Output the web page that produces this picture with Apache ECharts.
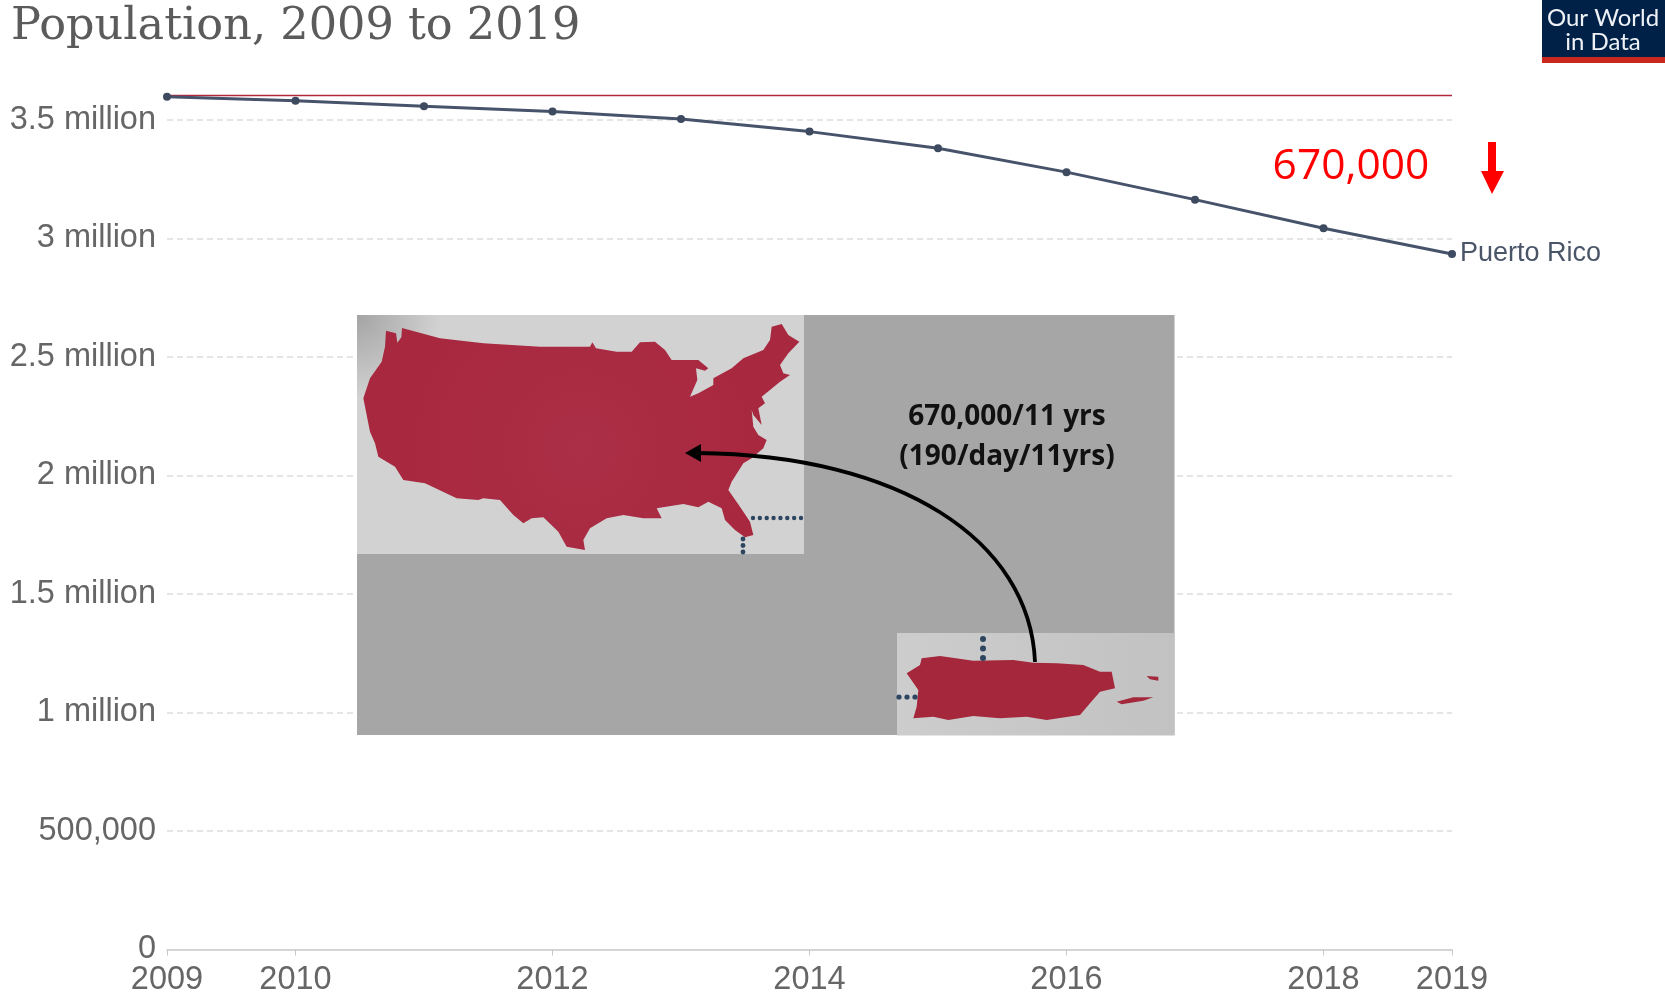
<!DOCTYPE html>
<html><head><meta charset="utf-8">
<style>html,body{margin:0;padding:0;background:#fff}#c{width:1665px;height:997px}</style>
<script src="https://cdn.jsdelivr.net/npm/echarts@6/dist/echarts.min.js"></script>
</head><body><div id="c"></div>
<script>
const years=[2009,2010,2011,2012,2013,2014,2015,2016,2017,2018,2019];
const population=[3598000,3581000,3558000,3536000,3504000,3451000,3381000,3280000,3164000,3043000,2935000];
const referenceYears=[2009,2019];
const referenceLevel=[3603000,3603000];
const xTickYears=[2009,2010,2012,2014,2016,2018,2019];
const yTickValues=[0,500000,1000000,1500000,2000000,2500000,3000000,3500000];
const yTickLabels=['0','500,000','1 million','1.5 million','2 million','2.5 million','3 million','3.5 million'];
const titleText='Population, 2009 to 2019';
const seriesName='Puerto Rico';

const usOutline=[[138,92],[168,100],[172,128],[184,112],[186,84],[300,115],[430,130],[600,140],[750,140],[757,127],[768,145],[830,155],[875,155],[900,127],[945,125],[975,150],[995,180],[1075,180],[1105,205],[1095,212],[1068,205],[1072,240],[1050,290],[1075,280],[1120,255],[1120,235],[1175,205],[1210,175],[1270,150],[1290,120],[1295,80],[1325,72],[1345,105],[1378,125],[1345,160],[1320,195],[1330,220],[1350,225],[1320,245],[1290,270],[1265,290],[1275,310],[1255,325],[1265,375],[1240,345],[1235,330],[1240,380],[1255,405],[1280,420],[1270,445],[1235,475],[1210,490],[1175,545],[1165,570],[1200,620],[1230,665],[1240,705],[1215,712],[1185,690],[1155,660],[1145,625],[1105,605],[1075,622],[1030,612],[950,625],[965,655],[910,655],[850,645],[800,655],[750,685],[730,720],[735,750],[680,740],[655,695],[610,652],[575,655],[550,670],[520,645],[480,600],[430,595],[415,600],[350,595],[255,550],[190,540],[165,500],[115,470],[105,430],[90,395],[70,295],[90,235],[125,185],[135,140]];
const prOutline=[[365,865],[420,858],[520,872],[640,870],[700,878],[770,880],[850,885],[900,905],[935,905],[945,955],[900,965],[870,1000],[840,1035],[740,1050],[680,1040],[600,1045],[520,1038],[445,1050],[400,1040],[340,1045],[350,1010],[355,960],[320,910],[360,885]];
const viequesOutline=[[950,995],[1000,982],[1060,982],[1030,992],[965,1003]];
const culebraOutline=[[1040,918],[1075,920],[1075,932],[1050,928]];
const toPx=(pts,ox,oy)=>pts.map(p=>[ox+p[0]/3,oy+p[1]/3]);

const usPhotoFill={type:'radial',x:0,y:0,r:0.35,colorStops:[{offset:0,color:'#a4a4a4'},{offset:1,color:'#d2d2d2'}]};
const prPhotoFill={type:'linear',x:0,y:0,x2:1,y2:0,colorStops:[{offset:0,color:'#cdcdcd'},{offset:1,color:'#c2c2c2'}]};
const redFill={type:'radial',x:0.5,y:0.55,r:0.75,colorStops:[{offset:0,color:'#ab2f47'},{offset:1,color:'#a8283f'}]};
const poly=(pts,fill)=>({type:'polygon',z:102,shape:{points:pts},style:{fill}});
const dotsH=(x1,x2,y,n,r)=>Array.from({length:n},(_,i)=>({type:'circle',z:103,shape:{cx:x1+(x2-x1)*i/(n-1),cy:y,r},style:{fill:'#2e4560'}}));
const dotsV=(x,y1,y2,n,r)=>Array.from({length:n},(_,i)=>({type:'circle',z:103,shape:{cx:x,cy:y1+(y2-y1)*i/(n-1),r},style:{fill:'#2e4560'}}));

const graphics=[
 {type:'rect',z:100,shape:{x:357,y:315,width:817.5,height:420},style:{fill:'#a6a6a6'}},
 {type:'rect',z:101,shape:{x:357,y:315,width:447,height:239},style:{fill:usPhotoFill}},
 {type:'rect',z:101,shape:{x:897,y:633,width:277.5,height:102.5},style:{fill:prPhotoFill}},
 poly(toPx(usOutline,340,300),redFill),
 poly(toPx(prOutline,800,370),'#a4273c'),
 poly(toPx(viequesOutline,800,370),'#a4273c'),
 poly(toPx(culebraOutline,800,370),'#a4273c'),
 ...dotsH(753,801,518,8,2.2),
 ...dotsV(743,539,552,3,2.4),
 ...dotsV(983,639,658,3,3),
 ...dotsH(899,915,697,3,2.6),
 {type:'bezierCurve',z:104,shape:{x1:1035,y1:662,cpx1:1030,cpy1:540,cpx2:900,cpy2:455,x2:698,y2:453},style:{stroke:'#000',lineWidth:3.8,fill:null}},
 {type:'polygon',z:104,shape:{points:[[685,453],[701,444],[701,462]]},style:{fill:'#000'}},
 {type:'text',z:105,style:{x:1007,y:417,text:'670,000/11 yrs',font:'bold 28px "Open Sans"',fill:'#111',align:'center',verticalAlign:'middle'}},
 {type:'text',z:105,style:{x:1007,y:457,text:'(190/day/11yrs)',font:'bold 28px "Open Sans"',fill:'#111',align:'center',verticalAlign:'middle'}},
 {type:'text',z:105,style:{x:1351,y:167,text:'670,000',font:'42.5px "Open Sans"',fill:'#ff0000',align:'center',verticalAlign:'middle'}},
 {type:'polygon',z:105,shape:{points:[[1488,142],[1496,142],[1496,171],[1504,171],[1492,194],[1481,171],[1488,171]]},style:{fill:'#ff0000'}},
 {type:'rect',z:105,shape:{x:1542,y:0,width:123,height:57},style:{fill:'#002147'}},
 {type:'rect',z:105,shape:{x:1542,y:57,width:123,height:6},style:{fill:'#c9281f'}},
 {type:'text',z:106,style:{x:1603,y:18,text:'Our World',font:'24px Lato',fill:'#eef2f6',align:'center',verticalAlign:'middle'}},
 {type:'text',z:106,style:{x:1603,y:42,text:'in Data',font:'24px Lato',fill:'#eef2f6',align:'center',verticalAlign:'middle'}}
];

const chart=echarts.init(document.getElementById('c'),null,{renderer:'canvas',width:1665,height:997});
chart.setOption({
 animation:false,
 backgroundColor:'#fff',
 title:{text:titleText,left:6,top:0,textStyle:{fontFamily:'"DejaVu Serif"',fontWeight:'normal',fontSize:44.6,color:'#5b5b5b'}},
 grid:{left:167,right:213,top:60.75,bottom:47.5,containLabel:false},
 xAxis:{type:'value',min:2009,max:2019,
  splitLine:{show:false},
  axisLine:{show:true,lineStyle:{color:'#c8c8c8',width:1.5}},
  axisTick:{show:true,length:6,customValues:xTickYears,lineStyle:{color:'#c8c8c8'}},
  axisLabel:{customValues:xTickYears,formatter:v=>String(v),margin:14,fontFamily:'"Liberation Sans"',fontSize:32.5,color:'#666',hideOverlap:false,showMinLabel:true,showMaxLabel:true}},
 yAxis:{type:'value',min:0,max:3750000,
  axisLine:{show:false},
  axisTick:{show:false,customValues:yTickValues},
  splitLine:{show:true,lineStyle:{color:'#dddddd',type:[6,4],width:1.5},showMinLine:false},
  axisLabel:{customValues:yTickValues,margin:11,padding:[0,0,6,0],fontFamily:'"Liberation Sans"',fontSize:32.5,color:'#666',
   formatter:v=>yTickLabels[yTickValues.indexOf(v)]}},
 series:[
  {name:'Reference',type:'line',data:referenceYears.map((y,i)=>[y,referenceLevel[i]]),showSymbol:false,lineStyle:{color:'#b2283f',width:1.5},z:3,silent:true},
  {name:seriesName,type:'line',data:years.map((y,i)=>[y,population[i]]),symbol:'circle',symbolSize:8,showSymbol:true,showAllSymbols:true,
   itemStyle:{color:'#3d4a5f'},lineStyle:{color:'#46536a',width:3},z:4,
   endLabel:{show:true,formatter:seriesName,distance:8,fontFamily:'"Liberation Sans"',fontSize:27,color:'#4a5568'}}
 ],
 graphic:{elements:graphics}
});
</script></body></html>
